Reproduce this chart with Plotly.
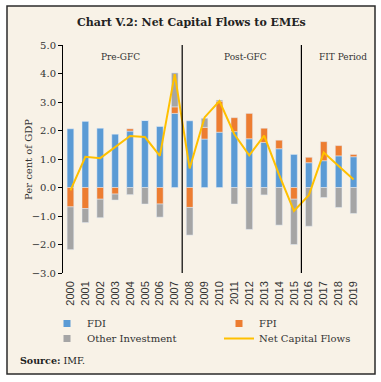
import plotly.graph_objects as go

years = list(range(2000, 2020))
fdi = [2.06, 2.32, 2.08, 1.87, 1.98, 2.35, 2.14, 2.60, 2.34, 1.70,
       1.94, 1.96, 1.71, 1.58, 1.36, 1.16, 0.87, 0.94, 1.11, 1.08]
fpi = [-0.68, -0.74, -0.41, -0.23, 0.08, 0.0, -0.58, 0.23, -0.70, 0.41,
       1.09, 0.49, 0.89, 0.50, 0.30, -0.41, 0.19, 0.67, 0.36, 0.08]
other_inv = [-1.50, -0.49, -0.65, -0.21, -0.25, -0.58, -0.46, 1.19, -0.97, 0.32,
             0.04, -0.58, -1.47, -0.26, -1.32, -1.59, -1.36, -0.35, -0.70, -0.91]
net_flows = [-0.10, 1.08, 1.03, 1.43, 1.81, 1.77, 1.11, 3.98, 0.67, 2.46,
             3.03, 1.87, 1.13, 1.82, 0.45, -0.82, -0.27, 1.23, 0.75, 0.28]
periods = ["Pre-GFC", "Post-GFC", "FIT Period"]
period_breaks = [2007.5, 2015.5]
y_ticks = [5, 4, 3, 2, 1, 0, -1, -2, -3]

W, H = 381, 382
ML, MR, MT, MB = 63, 20, 45, 109
PW, PH = W - ML - MR, H - MT - MB

def px_x(p):
    return (p - ML) / PW

def px_y(p):
    return (H - MB - p) / PH

period_label_px = [120, 245, 343]

C_FDI, C_FPI, C_OI, C_NET = "#5B9BD5", "#ED7D31", "#A5A5A5", "#FFC000"
SERIF = "DejaVu Serif"
TXT = "#333333"

fig = go.Figure()
fig.add_bar(x=years, y=fdi, marker_color=C_FDI, width=0.45, name="FDI", showlegend=False)
fig.add_bar(x=years, y=fpi, marker_color=C_FPI, width=0.45, name="FPI", showlegend=False)
fig.add_bar(x=years, y=other_inv, marker_color=C_OI, width=0.45, name="Other Investment", showlegend=False)
fig.add_scatter(x=years, y=net_flows, mode="lines", line=dict(color=C_NET, width=2),
                name="Net Capital Flows", showlegend=False)

# legend entries (two rows -> two legends)
fig.add_scatter(x=[None], y=[None], mode="markers", name="FDI", legend="legend",
                marker=dict(symbol="square", size=7, color=C_FDI))
fig.add_scatter(x=[None], y=[None], mode="markers", name="FPI", legend="legend",
                marker=dict(symbol="square", size=7, color=C_FPI))
fig.add_scatter(x=[None], y=[None], mode="markers", name="Other Investment", legend="legend2",
                marker=dict(symbol="square", size=7, color=C_OI))
fig.add_scatter(x=[None], y=[None], mode="lines", name="Net Capital Flows", legend="legend2",
                line=dict(color=C_NET, width=2))

shapes = [
    dict(type="rect", xref="paper", yref="paper", layer="below",
         x0=px_x(7), x1=px_x(375), y0=px_y(374), y1=px_y(6),
         fillcolor="#F8F2E7", line=dict(color="#2b2b2b", width=1.5)),
]
for b in period_breaks:
    shapes.append(dict(type="line", xref="x", yref="paper", x0=b, x1=b, y0=0, y1=1,
                       line=dict(color="black", width=1.2)))

annotations = [
    dict(text="<b>Chart V.2: Net Capital Flows to EMEs</b>", xref="paper", yref="paper",
         x=px_x(191.5), y=px_y(23), showarrow=False, xanchor="center", yanchor="middle",
         font=dict(family=SERIF, size=11, color="#222")),
    dict(text="<b>Source:</b> IMF.", xref="paper", yref="paper",
         x=px_x(18), y=px_y(360), showarrow=False, xanchor="left", yanchor="middle",
         font=dict(family=SERIF, size=9.5, color="#222")),
    dict(text="Per cent of GDP", xref="paper", yref="paper", textangle=-90,
         x=px_x(28), y=px_y(160), showarrow=False, xanchor="center", yanchor="middle",
         font=dict(family=SERIF, size=10, color=TXT)),
]
for lbl, lx in zip(periods, period_label_px):
    annotations.append(dict(text=lbl, xref="paper", yref="paper", x=px_x(lx), y=px_y(57),
                            showarrow=False, xanchor="center", yanchor="middle",
                            font=dict(family=SERIF, size=9, color=TXT)))

leg_common = dict(orientation="h", xanchor="left", yanchor="top",
                  entrywidth=127, entrywidthmode="pixels",
                  font=dict(family=SERIF, size=10, color=TXT), bgcolor="rgba(0,0,0,0)")

fig.update_layout(
    width=W, height=H,
    margin=dict(l=ML, r=MR, t=MT, b=MB, autoexpand=False),
    paper_bgcolor="white", plot_bgcolor="rgba(0,0,0,0)",
    barmode="relative",
    shapes=shapes, annotations=annotations,
    showlegend=True,
    legend=dict(x=px_x(47), y=px_y(309), **leg_common),
    legend2=dict(x=px_x(47), y=px_y(324), **leg_common),
    xaxis=dict(range=[1999.5, 2019.5], tickvals=years, ticktext=[str(y) for y in years],
               tickangle=-90, showline=False, ticks="", showgrid=False, zeroline=False,
               ticklabelstandoff=5,
               tickfont=dict(family="Liberation Sans", size=11, color=TXT)),
    xaxis2=dict(range=[1999.5, 2019.5], overlaying="x", matches="x", anchor="free",
                position=3 / 8, side="bottom", showline=True, linecolor="black", linewidth=1,
                ticks="outside", ticklen=3, tickcolor="black",
                tickvals=[y - 0.5 for y in years] + [years[-1] + 0.5],
                showticklabels=False, showgrid=False, zeroline=False),
    yaxis=dict(range=[-3, 5], tickvals=y_ticks, tickformat=".1f", showline=True,
               linecolor="black", linewidth=1, ticks="outside", ticklen=4, tickcolor="black",
               showgrid=False, zeroline=False,
               tickfont=dict(family=SERIF, size=10, color=TXT)),
)
fig.write_html("out.html", config={"displayModeBar": False},
               post_script="document.body.style.margin='0';document.body.style.overflow='hidden';")
